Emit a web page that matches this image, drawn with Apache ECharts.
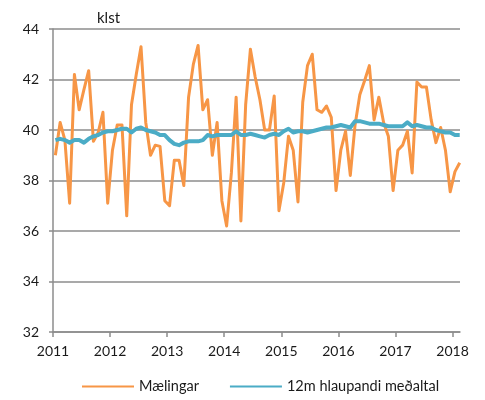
<!DOCTYPE html>
<html>
<head>
<meta charset="utf-8">
<script src="https://cdn.jsdelivr.net/npm/echarts@6/dist/echarts.min.js"></script>
<style>html,body{margin:0;padding:0;background:#fff}#c{width:485px;height:400px}</style>
</head>
<body>
<div id="c"></div>
<script>
// Monthly data, January 2011 to February 2018
const startYear = 2011;
const yearTicks = [2011, 2012, 2013, 2014, 2015, 2016, 2017, 2018];
const maelingar = [
  39.0, 40.3, 39.6, 37.1, 42.2, 40.8, 41.6, 42.35, 39.55, 39.9, 40.7, 37.1,
  39.2, 40.2, 40.2, 36.6, 41.0, 42.2, 43.3, 40.3, 39.0, 39.4, 39.35, 37.2,
  37.0, 38.8, 38.8, 37.8, 41.3, 42.6, 43.35, 40.8, 41.2, 39.0, 40.3, 37.2,
  36.2, 38.3, 41.3, 36.4, 41.0, 43.2, 42.1, 41.2, 40.0, 40.0, 41.35, 36.8,
  37.9, 39.75, 39.2, 37.15, 41.1, 42.55, 43.0, 40.8, 40.7, 40.95, 40.5, 37.6,
  39.2, 39.95, 38.2, 40.2, 41.4, 41.95, 42.55, 40.4, 41.3, 40.3, 39.75, 37.6,
  39.2, 39.4, 39.95, 38.3, 41.9, 41.7, 41.7, 40.4, 39.5, 40.1, 39.2, 37.55,
  38.35, 38.7
];
const medaltal = [
  39.6, 39.65, 39.6, 39.5, 39.6, 39.6, 39.5, 39.65, 39.75, 39.8, 39.9, 39.95,
  39.95, 40.0, 40.05, 40.05, 39.9, 40.05, 40.1, 40.0, 39.95, 39.9, 39.8, 39.8,
  39.6, 39.45, 39.4, 39.5, 39.55, 39.55, 39.55, 39.6, 39.8, 39.75, 39.8, 39.8,
  39.8, 39.8, 39.95, 39.8, 39.8, 39.85, 39.8, 39.75, 39.7, 39.8, 39.85, 39.8,
  39.95, 40.05, 39.9, 39.95, 39.95, 39.9, 39.95, 40.0, 40.05, 40.1, 40.1, 40.15,
  40.2, 40.15, 40.1, 40.35, 40.35, 40.3, 40.25, 40.25, 40.25, 40.2, 40.15, 40.15,
  40.15, 40.15, 40.3, 40.15, 40.2, 40.15, 40.1, 40.1, 40.0, 39.95, 39.9, 39.9,
  39.8, 39.8
];
const yTicks = [32, 34, 36, 38, 40, 42, 44];

// x position = year + mid-month
const toX = i => startYear + (i + 0.5) / 12;
const s1 = maelingar.map((v, i) => [toX(i), v]);
const s2 = medaltal.map((v, i) => [toX(i), v]);

const font = 'Lato, "Open Sans", sans-serif';
const chart = echarts.init(document.getElementById('c'), null, {renderer: 'canvas'});
chart.setOption({
  animation: false,
  backgroundColor: '#fff',
  textStyle: {fontFamily: font},
  title: {
    text: 'klst', left: 92, top: 6,
    textStyle: {fontFamily: font, fontSize: 15, fontWeight: 'normal', color: '#1a1a1a'}
  },
  grid: {left: 53, right: 25, top: 29, bottom: 68},
  legend: {
    bottom: 1, left: 77, itemGap: 31, itemWidth: 52, itemHeight: 10,
    textStyle: {fontFamily: font, fontSize: 14.5, color: '#1a1a1a'},
    data: [
      {name: 'Mælingar', icon: 'path://M0,4 L52,4 L52,6 L0,6 Z'},
      {name: '12m hlaupandi meðaltal', icon: 'path://M0,4 L52,4 L52,6 L0,6 Z'}
    ]
  },
  xAxis: {
    type: 'value', min: yearTicks[0], max: 2018.13, interval: 1,
    axisLine: {lineStyle: {color: '#8c8c8c', width: 1.5}},
    axisTick: {show: true, length: 5, inside: false, customValues: yearTicks, lineStyle: {color: '#8c8c8c', width: 1.5}},
    axisLabel: {customValues: yearTicks, color: '#1a1a1a', fontSize: 14, margin: 12, fontFamily: font, formatter: v => String(v)},
    splitLine: {show: false}
  },
  yAxis: {
    type: 'value', min: yTicks[0], max: yTicks[yTicks.length - 1], interval: 2,
    axisLine: {show: true, lineStyle: {color: '#8c8c8c', width: 1.5}},
    axisTick: {show: true, length: 4, lineStyle: {color: '#8c8c8c', width: 1.5}},
    axisLabel: {color: '#1a1a1a', fontSize: 14, margin: 14, fontFamily: font},
    splitLine: {show: true, lineStyle: {color: '#8c8c8c', width: 1.5}}
  },
  series: [
    {
      name: 'Mælingar', type: 'line', data: s1, showSymbol: false, symbol: 'none',
      lineStyle: {color: '#F79646', width: 3, join: 'round'}, itemStyle: {color: '#F79646'}, z: 2
    },
    {
      name: '12m hlaupandi meðaltal', type: 'line', data: s2, showSymbol: false, symbol: 'none',
      lineStyle: {color: '#4BACC6', width: 4, join: 'round'}, itemStyle: {color: '#4BACC6'}, z: 3
    }
  ]
});
</script>
</body>
</html>
